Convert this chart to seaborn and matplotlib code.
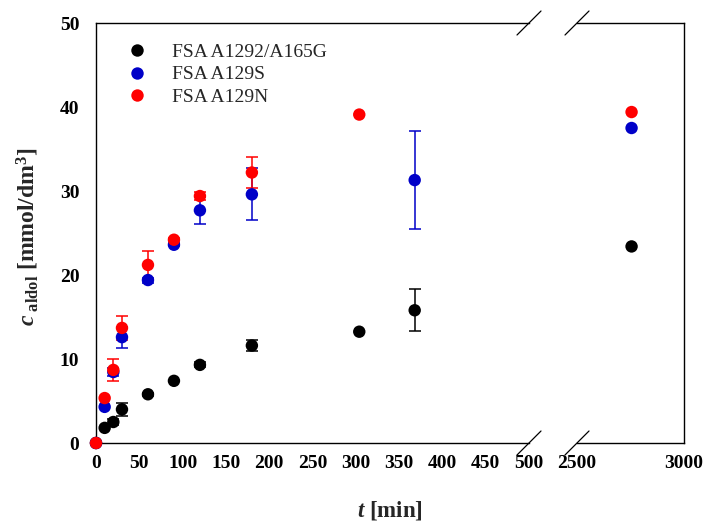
import matplotlib
matplotlib.use("Agg")
import matplotlib.pyplot as plt
import seaborn as sns
import numpy as np
import pandas as pd

# ---- data ----
series_names = ["FSA A1292/A165G", "FSA A129S", "FSA A129N"]

t_black = [0, 10, 20, 30, 60, 90, 120, 180, 304, 368, 2755]
c_black = [0, 1.8, 2.5, 4.0, 5.8, 7.4, 9.3, 11.6, 13.25, 15.8, 23.4]
e_black = [0, 0, 0.35, 0.8, 0.2, 0, 0.3, 0.7, 0, 2.5, 0]

t_blue = [0, 10, 20, 30, 60, 90, 120, 180, 368, 2755]
c_blue = [0, 4.3, 8.45, 12.6, 19.4, 23.6, 27.7, 29.6, 31.3, 37.5]
e_blue = [0, 0, 0.5, 1.25, 0.3, 0.2, 1.6, 3.1, 5.8, 0]

t_red = [0, 10, 20, 30, 60, 90, 120, 180, 304, 2755]
c_red = [0, 5.35, 8.7, 13.7, 21.2, 24.2, 29.4, 32.2, 39.1, 39.4]
e_red = [0, 0, 1.3, 1.45, 1.7, 0.2, 0.45, 1.8, 0, 0]

colors = ["#000000", "#0000C8", "#FF0000"]

left_ticks = [0, 50, 100, 150, 200, 250, 300, 350, 400, 450, 500]
right_ticks = [2500, 3000]
y_ticks = [0, 10, 20, 30, 40, 50]

frames = []
for name, t, c, e in zip(series_names, [t_black, t_blue, t_red],
                         [c_black, c_blue, c_red], [e_black, e_blue, e_red]):
    frames.append(pd.DataFrame({"t": t, "c": c, "err": e, "series": name}))
df = pd.concat(frames, ignore_index=True)
palette = dict(zip(series_names, colors))

# ---- style ----
sns.set_style("white")
plt.rcParams["font.family"] = ["Liberation Serif", "DejaVu Serif"]
plt.rcParams["mathtext.fontset"] = "custom"
plt.rcParams["mathtext.rm"] = "Liberation Serif:bold"
plt.rcParams["mathtext.bf"] = "Liberation Serif:bold"
plt.rcParams["mathtext.it"] = "Liberation Serif:italic:bold"

fig = plt.figure(figsize=(7.06, 5.22), dpi=100)
W, H = 706, 522
x0, x1 = 96, 529
x2, x3 = 577, 684
ytop, ybot = 23, 443
ax1 = fig.add_axes([x0 / W, 1 - ybot / H, (x1 - x0) / W, (ybot - ytop) / H])
ax2 = fig.add_axes([x2 / W, 1 - ybot / H, (x3 - x2) / W, (ybot - ytop) / H])

parts = [(ax1, df[df.t <= 500], True), (ax2, df[df.t >= 2500], False)]
for ax, part, show_legend in parts:
    for name in series_names:
        sub = part[(part.series == name) & (part.err > 0)]
        if len(sub):
            ax.errorbar(sub.t, sub.c, yerr=sub.err, fmt="none", ecolor=palette[name],
                        elinewidth=1.1, capsize=4, capthick=1.1, zorder=2, clip_on=False)
    sns.scatterplot(data=part, x="t", y="c", hue="series", palette=palette,
                    hue_order=series_names, s=80, linewidth=0, ax=ax,
                    zorder=3, clip_on=False, legend=show_legend)
    ax.set_ylim(0, 50)
    ax.set_xlabel("")
    ax.set_ylabel("")
    for sp in ax.spines.values():
        sp.set_color("black")
        sp.set_linewidth(1.0)

ax1.set_xlim(0, 500)
ax2.set_xlim(2500, 3000)
ax1.spines["right"].set_visible(False)
ax2.spines["left"].set_visible(False)

ax1.set_xticks(left_ticks)
ax1.set_yticks(y_ticks)
ax2.set_xticks(right_ticks)
ax2.set_yticks([])

for ax in (ax1, ax2):
    ax.tick_params(axis="both", direction="out", length=5, width=1, colors="black",
                   labelsize=14, pad=4)
    for lab in ax.get_xticklabels() + ax.get_yticklabels():
        lab.set_fontweight("bold")
ax1.tick_params(axis="y", pad=7)
ax2.xaxis.get_major_ticks()[0].tick1line.set_visible(False)

# break marks
d = 12
for xp in (x1, x2):
    for yp in (ytop, ybot):
        fig.add_artist(plt.Line2D([(xp - d) / W, (xp + d) / W],
                                  [1 - (yp + d) / H, 1 - (yp - d) / H],
                                  color="black", linewidth=0.9))

fig.text(390 / W, 1 - 510 / H, r"$\mathit{t}$ [min]", fontsize=16.5, fontweight="bold",
         ha="center", va="center")
fig.text(28 / W, 1 - 237 / H, r"$\mathit{c}_{\mathrm{\ aldol}}$ [mmol/dm$^{3}$]",
         fontsize=17, fontweight="bold", rotation=90, ha="center", va="center")

leg = ax1.legend(loc="upper left", bbox_to_anchor=(0.05, 0.952), frameon=False,
                 fontsize=14, handlelength=2.0, handletextpad=0.8, labelspacing=0.26,
                 borderpad=0, borderaxespad=0)

fig.savefig("out.png", dpi=100)
